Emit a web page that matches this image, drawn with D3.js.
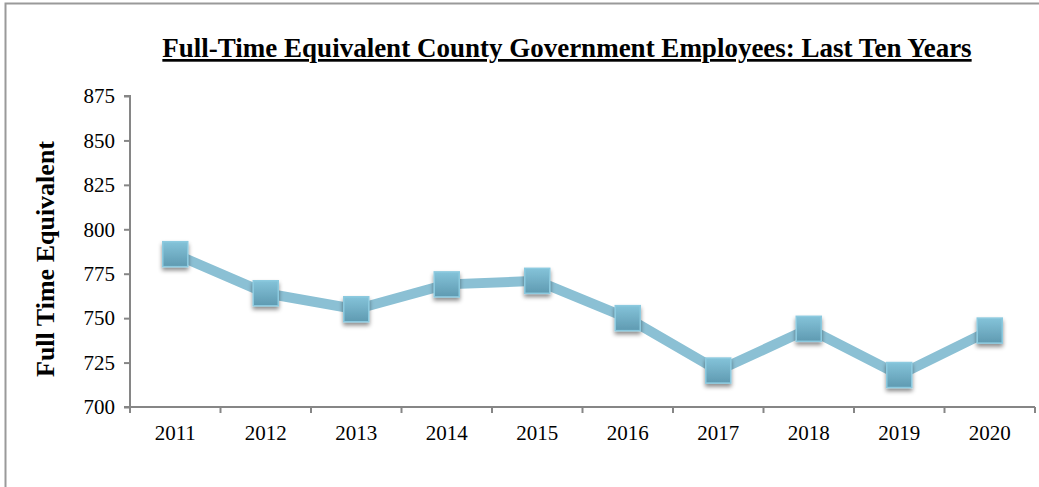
<!DOCTYPE html>
<html>
<head>
<meta charset="utf-8">
<script src="https://cdn.jsdelivr.net/npm/d3@7"></script>
<style>
  body { margin: 0; background: #fff; }
  svg { display: block; }
  .axis path, .axis line { stroke: #868686; stroke-width: 2px; }
  .axis text { font-family: "Liberation Serif", "Times New Roman", serif; font-size: 21px; fill: #000; }
</style>
</head>
<body>
<svg id="chart" width="1039" height="487"></svg>
<script>
// data
let years = ["2011", "2012", "2013", "2014", "2015", "2016", "2017", "2018", "2019", "2020"]
let fte = [786, 764, 755, 769, 771, 750, 720.5, 744, 718, 743]
let yTicks = [700, 725, 750, 775, 800, 825, 850, 875]

let svg = d3.select("#chart")
let plotLeft = 130, plotRight = 1035, plotTop = 96, plotBottom = 407

// outer frame (top + left only visible)
svg.append("path")
  .attr("d", "M5.5,487 L5.5,3.5 L1039,3.5")
  .attr("fill", "none")
  .attr("stroke", "#9a9a9a")
  .attr("stroke-width", 2)

let defs = svg.append("defs")
let grad = defs.append("linearGradient")
  .attr("id", "mk").attr("x1", 0).attr("y1", 0).attr("x2", 0).attr("y2", 1)
grad.append("stop").attr("offset", "0%").attr("stop-color", "#84c3d9")
grad.append("stop").attr("offset", "100%").attr("stop-color", "#5f9ab1")
let shadow = defs.append("filter").attr("id", "shd")
  .attr("x", "-50%").attr("y", "-50%").attr("width", "200%").attr("height", "200%")
shadow.append("feDropShadow")
  .attr("dx", 0).attr("dy", 3).attr("stdDeviation", 2)
  .attr("flood-color", "#000").attr("flood-opacity", 0.45)

let xScale = d3.scaleBand().domain(years).range([plotLeft, plotRight])
let yScale = d3.scaleLinear().domain([700, 875]).range([plotBottom, plotTop])

// y axis
let yAxis = d3.axisLeft(yScale).tickValues(yTicks).tickSize(6).tickPadding(9)
svg.append("g").attr("class", "axis")
  .attr("transform", `translate(${plotLeft},0)`)
  .call(yAxis)
  .call(g => g.select(".domain").attr("d", `M-6,${plotTop}H0V${plotBottom}H-6`))

// x axis, ticks between categories
let xAxisG = svg.append("g").attr("class", "axis")
  .attr("transform", `translate(0,${plotBottom})`)
xAxisG.append("path")
  .attr("d", `M${plotLeft},0H${plotRight}`)
  .attr("stroke", "#868686").attr("stroke-width", 2)
let bounds = years.map(y => xScale(y)).concat([plotRight])
xAxisG.selectAll("line.tk").data(bounds).enter()
  .append("line").attr("class", "tk")
  .attr("x1", d => d).attr("x2", d => d)
  .attr("y1", 0).attr("y2", 6)
xAxisG.selectAll("text").data(years).enter()
  .append("text")
  .attr("x", d => xScale(d) + xScale.bandwidth() / 2)
  .attr("y", 33)
  .attr("text-anchor", "middle")
  .text(d => d)

let cx = (d, i) => xScale(years[i]) + xScale.bandwidth() / 2

// line
let line = d3.line()
  .x((d, i) => cx(d, i))
  .y(d => yScale(d))
svg.append("path")
  .datum(fte)
  .attr("d", line)
  .attr("fill", "none")
  .attr("stroke", "#8bc0d4")
  .attr("stroke-width", 10)
  .attr("stroke-linejoin", "round")

// markers
let sz = 25
svg.selectAll("rect.mk").data(fte).enter()
  .append("rect").attr("class", "mk")
  .attr("x", (d, i) => cx(d, i) - sz / 2)
  .attr("y", d => yScale(d) - sz / 2)
  .attr("width", sz).attr("height", sz)
  .attr("fill", "url(#mk)")
  .attr("stroke", "#8ccadf")
  .attr("stroke-width", 1.5)
  .attr("filter", "url(#shd)")

// title
svg.append("text")
  .attr("x", 567).attr("y", 57)
  .attr("text-anchor", "middle")
  .style("font-family", "'Liberation Serif', 'Times New Roman', serif")
  .style("font-weight", "bold")
  .style("font-size", "27px")
  .style("text-decoration", "underline")
  .text("Full-Time Equivalent County Government Employees: Last Ten Years")

// y axis title
svg.append("text")
  .attr("transform", "translate(54,259) rotate(-90)")
  .attr("text-anchor", "middle")
  .style("font-family", "'Liberation Serif', 'Times New Roman', serif")
  .style("font-weight", "bold")
  .style("font-size", "26px")
  .text("Full Time Equivalent")
</script>
</body>
</html>
